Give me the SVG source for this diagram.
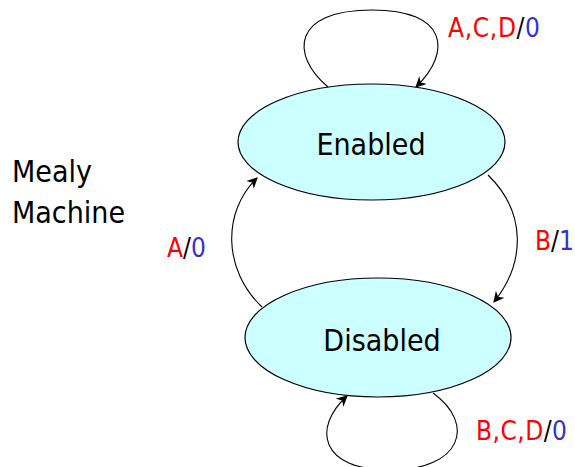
<svg xmlns="http://www.w3.org/2000/svg" width="575" height="467" viewBox="0 0 575 467">
<style>
text{font-family:"DejaVu Sans Condensed","DejaVu Sans",sans-serif;font-stretch:condensed;fill:#000}
.state ellipse{fill:#CCFFFF;stroke:#000;stroke-width:1.2}
.big{font-size:30px}
.lbl{font-size:26px}
.r{fill:#FF0000}
.b{fill:#3333CC}
#connectors path{fill:none;stroke:#000;stroke-width:1.1;marker-end:url(#arr)}
</style>
<defs>
<marker id="arr" viewBox="0 0 10 10" refX="9" refY="5" markerWidth="11" markerHeight="11" markerUnits="userSpaceOnUse" orient="auto">
<path d="M0,0 L10,5 L0,10 L3,5 Z" fill="#000"/>
</marker>
</defs>
<g id="connectors">
<path d="M328,87 C290,55 292,10 372,10 C448,10 452,52 416,87"/>
<path d="M488,175 C526,212 526,262 494,302"/>
<path d="M262,307 C223,270 222,212 257,178"/>
<path d="M433,393 C476,424 462,470 390,470 C320,470 312,428 347,396"/>
</g>
<g id="enabled" class="state">
<ellipse cx="371.5" cy="142" rx="133.5" ry="58"/>
<text class="big" x="371" y="155" text-anchor="middle">Enabled</text>
</g>
<g id="disabled" class="state">
<ellipse cx="378" cy="337.5" rx="133" ry="59.5"/>
<text class="big" x="382" y="351" text-anchor="middle">Disabled</text>
</g>
<g id="title">
<text class="big" x="12" y="182">Mealy</text>
<text class="big" x="12" y="223">Machine</text>
</g>
<g id="labels">
<text class="lbl" x="448" y="37" textLength="92" lengthAdjust="spacing"><tspan class="r">A,C,D</tspan>/<tspan class="b">0</tspan></text>
<text class="lbl" x="535" y="250"><tspan class="r">B</tspan>/<tspan class="b">1</tspan></text>
<text class="lbl" x="167" y="257"><tspan class="r">A</tspan>/<tspan class="b">0</tspan></text>
<text class="lbl" x="476" y="440" textLength="91" lengthAdjust="spacing"><tspan class="r">B,C,D</tspan>/<tspan class="b">0</tspan></text>
</g>
</svg>
